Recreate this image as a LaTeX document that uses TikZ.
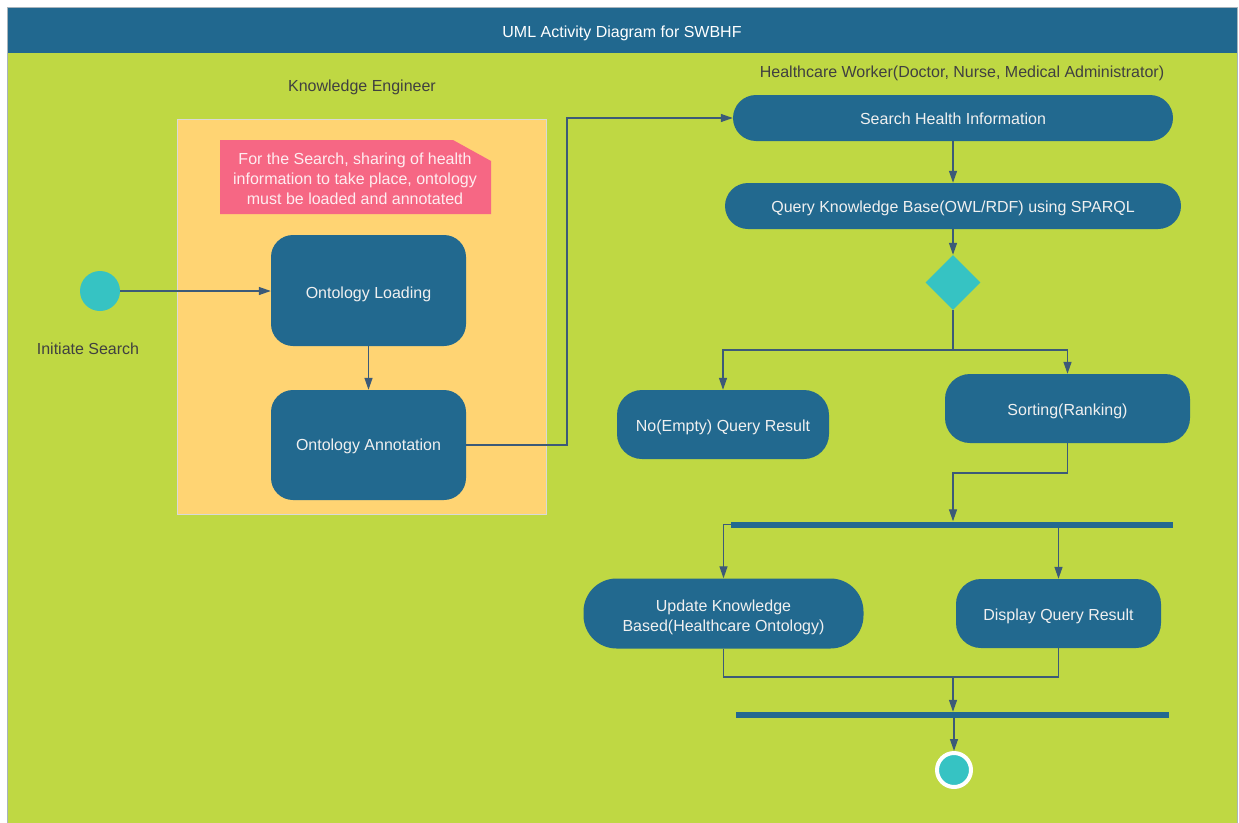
\documentclass[tikz,border=0pt]{standalone}
\usepackage{fontspec}
\setmainfont{Liberation Sans}
\usetikzlibrary{arrows.meta,shapes.geometric,calc}

\definecolor{titleblue}{HTML}{21688F}
\definecolor{bggreen}{HTML}{BFD843}
\definecolor{laneorange}{HTML}{FFD473}
\definecolor{notepink}{HTML}{F66784}
\definecolor{actblue}{HTML}{22698F}
\definecolor{teal}{HTML}{36C3C3}
\definecolor{flowline}{HTML}{3C5A78}
\definecolor{labelgray}{HTML}{404040}
\definecolor{framegray}{HTML}{A8B4BC}

% activity caption: zero-size box whose baseline sits #1 below the node centre
\newcommand{\acttext}[2][7pt]{\raisebox{-#1}[0pt][0pt]{\begin{tabular}{@{}c@{}}#2\end{tabular}}}

\tikzset{
  every node/.style={font=\fontsize{16}{20}\selectfont},
  activity/.style={fill=actblue, text=white!94!black, align=center,
    inner sep=0pt, rectangle},
  barnode/.style={fill=actblue, inner sep=0pt, minimum height=6pt},
  flow/.style={draw=flowline, line width=1.3pt},
  arr/.style={flow, -{Triangle[length=12pt,width=8pt]}},
  lanelabel/.style={text=labelgray},
}

\begin{document}
\begin{tikzpicture}[x=1pt,y=-1pt]
\useasboundingbox (0,0) rectangle (1239,822);

% frame, title bar and background
\fill[white] (0,0) rectangle (1239,822);
\fill[bggreen] (7,53) rectangle (1237,830);
\fill[titleblue] (7,7) rectangle (1237,53);
\draw[framegray, line width=0.8pt] (7,830) -- (7,7) -- (1237,7) -- (1237,830);
\node[text=white] (title) at (622,33) {UML Activity Diagram for SWBHF};

% swimlane captions
\node[lanelabel] (lane1) at (362,87) {Knowledge Engineer};
\node[lanelabel] (lane2) at (962,73) {Healthcare Worker(Doctor, Nurse, Medical Administrator)};

% knowledge engineer partition
\filldraw[fill=laneorange, draw=black!15, line width=0.8pt] (177,119) rectangle (546,514);

% note with folded corner
\fill[notepink] (220,140) -- (453,140) -- (491,161) -- (491,214) -- (220,214) -- cycle;
\node[text=white!88!notepink, align=center] (note) at (355,179)
  {For the Search, sharing of health\\information to take place, ontology\\must be loaded and annotated};

% initial node
\node[circle, fill=teal, minimum size=40pt, inner sep=0pt] (init) at (100,291) {};
\node[lanelabel] (initlbl) at (88,349) {Initiate Search};

% knowledge engineer activities
\node[activity, rounded corners=22pt, minimum width=195pt, minimum height=111pt] (load) at (368.5,290.5) {\acttext[8pt]{Ontology Loading}};
\node[activity, rounded corners=22pt, minimum width=195pt, minimum height=110pt] (annot) at (368.5,445) {\acttext[6pt]{Ontology Annotation}};

% healthcare worker activities
\node[activity, rounded corners=23pt, minimum width=440pt, minimum height=46pt] (search) at (953,118) {\acttext{Search Health Information}};
\node[activity, rounded corners=23pt, minimum width=456pt, minimum height=46pt] (query) at (953,206) {\acttext{Query Knowledge Base(OWL/RDF) using SPARQL}};
\node[diamond, fill=teal, minimum width=55pt, minimum height=55pt, inner sep=0pt] (dec) at (953,282.5) {};
\node[activity, rounded corners=25pt, minimum width=212pt, minimum height=69pt] (empty) at (723,424.5) {\acttext{No(Empty) Query Result}};
\node[activity, rounded corners=25pt, minimum width=245pt, minimum height=69pt] (sort) at (1067.5,408.5) {\acttext{Sorting(Ranking)}};
\node[barnode, minimum width=442pt] (fork) at (952,524.5) {};
\node[activity, rounded corners=33pt, minimum width=280pt, minimum height=70pt] (update) at (723.5,613.5) {\acttext[8pt]{Update Knowledge\\Based(Healthcare Ontology)}};
\node[activity, rounded corners=25pt, minimum width=205pt, minimum height=69pt] (display) at (1058.5,613.5) {\acttext{Display Query Result}};
\node[barnode, minimum width=433pt] (join) at (952.5,715) {};

% final node
\node[circle, fill=teal, draw=white, line width=4pt, minimum size=34pt, inner sep=0pt] (final) at (954,770) {};

% junction points of the flows
\coordinate (toSearch) at (567,118);
\coordinate (split) at (953,350);
\coordinate (merge1) at (953,473);
\coordinate (merge2) at (953,677);

% control flows
\draw[arr] (init.east) -- (init.east -| load.west);
\draw[arr] (load.south) -- (annot.north);
\draw[arr] (annot.east) -| (toSearch) -- (search.west);
\draw[arr] (search.south) -- (query.north);
\draw[arr] (query.south) -- (dec.north);
\draw[flow] (dec.south) -- (split);
\draw[arr] (split) -| (empty.north);
\draw[arr] (split) -| (sort.north);
\draw[arr] (sort.south) |- (merge1) -- (merge1 |- fork.north);
\draw[arr] (fork.west) -| (update.north);
\draw[arr] (display.north |- fork.south) -- (display.north);
\draw[flow] (update.south) |- (merge2) -| (display.south);
\draw[arr] (merge2) -- (merge2 |- join.north);
\draw[arr] (join.south -| final) -- (final.north);
\end{tikzpicture}
\end{document}
